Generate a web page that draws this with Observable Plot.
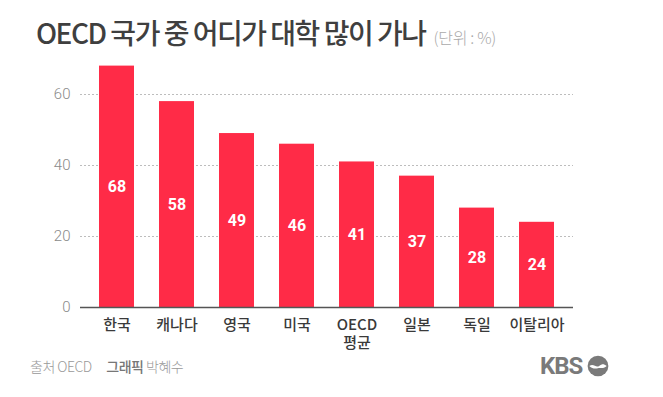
<!DOCTYPE html>
<html>
<head>
<meta charset="utf-8">
<script src="https://cdn.jsdelivr.net/npm/d3@7"></script>
<script src="https://cdn.jsdelivr.net/npm/@observablehq/plot@0.6"></script>
<style>
  html, body { margin: 0; padding: 0; background: #fff; }
  body { width: 663px; height: 397px; position: relative; overflow: hidden; font-family: "Noto Sans CJK KR", "Roboto", sans-serif; }
  #title { position: absolute; left: 36px; top: 12px; white-space: nowrap; }
  #title .main { font-size: 28px; font-weight: 500; color: #3f3f3f; letter-spacing: -1.5px; }
  #title .unit { font-size: 16px; color: #aaa; margin-left: 8px; letter-spacing: -0.3px; font-weight: 300; }
  #chart { position: absolute; left: 0; top: 60px; }
  #footer { position: absolute; left: 30px; top: 356px; font-size: 14px; color: #999; letter-spacing: -0.5px; font-weight: 300; }
  #footer b { color: #777; font-weight: 500; margin-left: 12px; }
  #logo { position: absolute; left: 540px; top: 352px; display: flex; align-items: center; }
  #logo span { font-family: "Roboto", sans-serif; font-weight: 700; font-size: 24px; color: #7a7a7a; letter-spacing: -1px; }
</style>
</head>
<body>
<div id="title"><span class="main">OECD 국가 중 어디가 대학 많이 가나</span><span class="unit">(단위 : %)</span></div>
<div id="chart"></div>
<div id="footer">출처 OECD <b>그래픽</b> 박혜수</div>
<div id="logo"><span>KBS</span><svg width="24" height="24" viewBox="0 0 22 22" style="margin-left:4px"><circle cx="11" cy="11" r="9.5" fill="#7a7a7a"/><path d="M3 11 C7 8, 9 13, 12 11 S16 9, 19 11 C16 14, 13 12.5, 11 13 S6 14, 3 11 Z" fill="#fff"/></svg></div>
<script>
const countries = ["한국", "캐나다", "영국", "미국", "OECD\n평균", "일본", "독일", "이탈리아"];
const rates = [68, 58, 49, 46, 41, 37, 28, 24];
const yTicks = [0, 20, 40, 60];
const gridTicks = [20, 40, 60];

const data = countries.map((c, i) => ({country: c, value: rates[i]}));

const chart = Plot.plot({
  width: 663,
  height: 296,
  marginLeft: 80,
  marginRight: 90,
  marginTop: 34,
  marginBottom: 49,
  style: {fontFamily: "'Noto Sans CJK KR', Roboto, sans-serif", background: "transparent"},
  x: {domain: countries, paddingInner: 0.41, paddingOuter: 0.27, label: null},
  y: {domain: [0, 60], label: null},
  marks: [
    Plot.ruleY(gridTicks, {stroke: "#bdbdbd", strokeDasharray: "2,2", strokeWidth: 1}),
    Plot.barY(data, {x: "country", y: "value", fill: "#ff2b47"}),
    Plot.ruleY([0], {stroke: "#555", strokeWidth: 1.5}),
    Plot.text(data, {x: "country", y: d => d.value / 2, text: d => String(d.value), fill: "#fff", fontSize: 16, fontWeight: "bold", fontFamily: "Roboto, sans-serif"}),
    Plot.axisY({ticks: yTicks, tickSize: 0, tickPadding: 10, fontSize: 15, fill: "#8a8a8a", fontFamily: "Roboto, sans-serif", fontWeight: 300, label: null}),
    Plot.axisX({tickSize: 0, tickPadding: 10, fontSize: 15, fill: "#3a3a3a", fontWeight: 500, label: null, lineHeight: 1.2})
  ]
});
document.getElementById("chart").appendChild(chart);
</script>
</body>
</html>
